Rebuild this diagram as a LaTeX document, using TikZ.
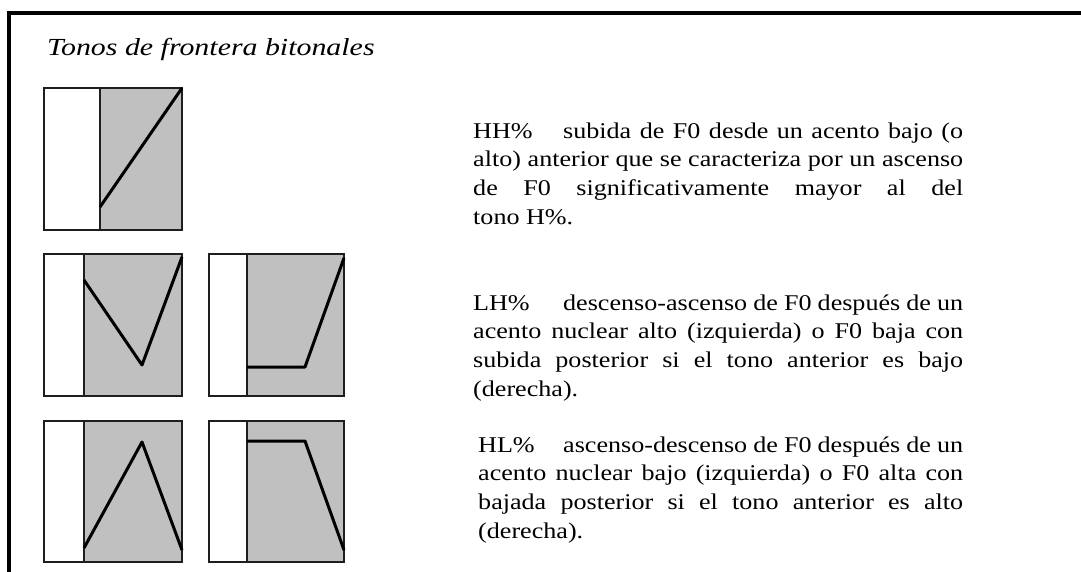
\documentclass[tikz,border=0pt]{standalone}
\usepackage{fontspec}
\setmainfont[FakeStretch=1.16]{Liberation Serif}
\newfontfamily\titlefont[FakeStretch=1.22]{Liberation Serif}
\definecolor{panelgray}{HTML}{C0C0C0}
\definecolor{edgegray}{HTML}{1E1E1E}
\begin{document}
\begin{tikzpicture}[x=1pt,y=-1pt,
  frame/.style={line width=4pt,line join=miter},
  panel/.style={draw=edgegray,line width=1.3pt},
  shade/.style={fill=panelgray},
  contour/.style={draw=black,line width=3pt,line join=round,line cap=butt},
  desc/.style={anchor=north west,inner sep=0pt,text width=490pt,align=justify,
    font=\fontsize{22.5pt}{28.7pt}\selectfont},
  titletext/.style={anchor=base west,inner sep=0pt,font=\titlefont\itshape\fontsize{24.5pt}{28pt}\selectfont}]
\useasboundingbox (0,0) rectangle (1081,572);
% frame
\draw[frame] (1090,13) -- (9,13) -- (9,580);
% title
\node[titletext] (title) at (47,56) {Tonos de frontera bitonales};
% panel 1 (HH%)
\fill[shade] (100,88) rectangle (182,230);
\draw[panel] (44,88) rectangle (182,230) (100,88) -- (100,230);
\draw[contour] (100,207) -- (182,88);
% panel A (LH% left)
\fill[shade] (84,254) rectangle (182,396);
\draw[panel] (44,254) rectangle (182,396) (84,254) -- (84,396);
\draw[contour] (84,280) -- (142,365) -- (182,257);
% panel B (LH% right)
\fill[shade] (247,254) rectangle (344,396);
\draw[panel] (209,254) rectangle (344,396) (247,254) -- (247,396);
\draw[contour] (247,367) -- (305,367) -- (344,258);
% panel C (HL% left)
\fill[shade] (84,421) rectangle (182,562);
\draw[panel] (44,421) rectangle (182,562) (84,421) -- (84,562);
\draw[contour] (84,548) -- (142,442) -- (182,550);
% panel D (HL% right)
\fill[shade] (247,421) rectangle (344,562);
\draw[panel] (209,421) rectangle (344,562) (247,421) -- (247,562);
\draw[contour] (247,441) -- (305,441) -- (344,550);
% descriptions
\node[desc] (hh) at (473,118) {\noindent\rule{0pt}{20pt}\makebox[90pt][l]{HH\%}subida de F0 desde un acento bajo (o\linebreak alto) anterior que se caracteriza por un ascenso\linebreak de F0 significativamente mayor al del\linebreak tono H\%.};
\node[desc] (lh) at (473,290) {\noindent\rule{0pt}{20pt}\makebox[90pt][l]{LH\%}descenso-ascenso de F0 después de un\linebreak acento nuclear alto (izquierda) o F0 baja con\linebreak subida posterior si el tono anterior es bajo\linebreak (derecha).};
\node[desc,text width=485pt] (hl) at (478,432) {\noindent\rule{0pt}{20pt}\makebox[85pt][l]{HL\%}ascenso-descenso de F0 después de un\linebreak acento nuclear bajo (izquierda) o F0 alta con\linebreak bajada posterior si el tono anterior es alto\linebreak (derecha).};
\end{tikzpicture}
\end{document}
